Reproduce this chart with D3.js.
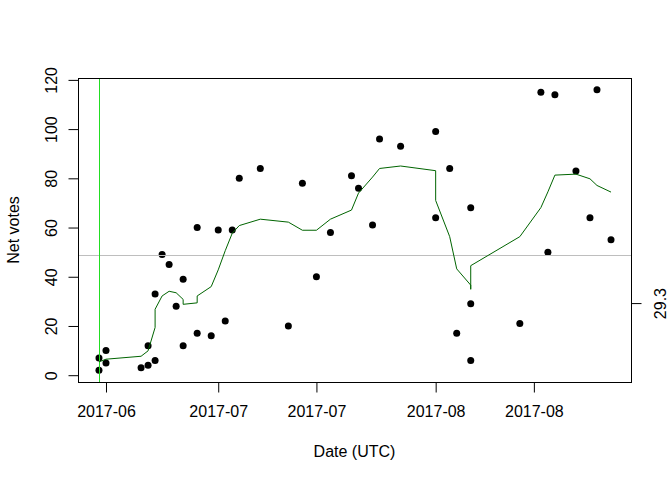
<!DOCTYPE html>
<html>
<head>
<meta charset="utf-8">
<script src="https://cdn.jsdelivr.net/npm/d3@7/dist/d3.min.js"></script>
<style>
  html, body { margin: 0; padding: 0; background: #ffffff; }
  svg { display: block; }
  text { font-family: "Liberation Sans", Arial, sans-serif; font-size: 16px; fill: #000; }
</style>
</head>
<body>
<script>
// ---------------- data ----------------
const pointDates = [
  "2017-06-14","2017-06-14","2017-06-15","2017-06-15","2017-06-20",
  "2017-06-21","2017-06-21","2017-06-22","2017-06-22","2017-06-23",
  "2017-06-24","2017-06-25","2017-06-26","2017-06-26","2017-06-28",
  "2017-06-28","2017-06-30","2017-07-01","2017-07-02","2017-07-03",
  "2017-07-04","2017-07-07","2017-07-11","2017-07-13","2017-07-15",
  "2017-07-17","2017-07-20","2017-07-21","2017-07-23","2017-07-24",
  "2017-07-27","2017-08-01","2017-08-01","2017-08-03","2017-08-04",
  "2017-08-06","2017-08-06","2017-08-06","2017-08-13","2017-08-16",
  "2017-08-17","2017-08-18","2017-08-21","2017-08-23","2017-08-24",
  "2017-08-26"
];
const netVotes = [
  7, 2, 10, 5, 3,
  4, 12, 6, 33, 49,
  45, 28, 39, 12, 60,
  17, 16, 59, 22, 59,
  80, 84, 20, 78, 40,
  58, 81, 76, 61, 96,
  93, 99, 64, 84, 17,
  68, 29, 6, 21, 115,
  50, 114, 83, 64, 116,
  55
];

// rolling average series (dark green line)
const avgDates = [
  "2017-06-14","2017-06-15","2017-06-20","2017-06-21","2017-06-22",
  "2017-06-22","2017-06-23","2017-06-24","2017-06-25","2017-06-26",
  "2017-06-26","2017-06-28","2017-06-28","2017-06-30","2017-07-01",
  "2017-07-02","2017-07-03","2017-07-04","2017-07-07","2017-07-11",
  "2017-07-13","2017-07-15","2017-07-17","2017-07-20","2017-07-21",
  "2017-07-23","2017-07-24","2017-07-27","2017-08-01","2017-08-01",
  "2017-08-03","2017-08-04","2017-08-06","2017-08-06","2017-08-06",
  "2017-08-13","2017-08-16","2017-08-17","2017-08-18","2017-08-21",
  "2017-08-23","2017-08-24","2017-08-26"
];
const avgValues = [
  5.4, 6.5, 7.7, 9.9, 19.4,
  26.8, 32.2, 34.1, 33.5, 30.8,
  28.8, 29.4, 32.2, 36.0, 42.8,
  50.6, 57.7, 60.8, 63.4, 62.2,
  58.9, 58.9, 63.4, 67.1, 74.0,
  80.5, 84.0, 85.0, 83.1, 71.0,
  56.3, 43.2, 36.6, 34.9, 44.5,
  56.3, 68.1, 74.5, 81.3, 81.7,
  79.8, 77.1, 74.4
];

const xTickDates = ["2017-06-15","2017-07-01","2017-07-15","2017-08-01","2017-08-15"];
const yTicks = [0, 20, 40, 60, 80, 100, 120];
const rightTickValues = [29.3];
const markerDate = "2017-06-14";

const xTitle = "Date (UTC)";
const yTitle = "Net votes";

// ---------------- layout ----------------
const W = 672, H = 480;
const pLeft = 78, pRight = 631, pTop = 78, pBottom = 382;

const parse = d3.utcParse("%Y-%m-%d");
const pts = pointDates.map((d, i) => ({ date: parse(d), v: netVotes[i] }));
const avg = avgDates.map((d, i) => ({ date: parse(d), v: avgValues[i] }));

// R-style 4% padding
const xExt = d3.extent(pts, d => d.date.getTime());
const xPad = (xExt[1] - xExt[0]) * 0.04;
const x = d3.scaleUtc()
  .domain([new Date(xExt[0] - xPad), new Date(xExt[1] + xPad)])
  .range([pLeft + 0.5, pRight + 0.5]);

const yExt = d3.extent(netVotes);
const yPad = (yExt[1] - yExt[0]) * 0.04;
const y = d3.scaleLinear()
  .domain([yExt[0] - yPad, yExt[1] + yPad])
  .range([pBottom - 0.5, pTop + 0.5]);

const svg = d3.select("body").append("svg")
  .attr("width", W).attr("height", H);

svg.append("rect").attr("width", W).attr("height", H).attr("fill", "#fff");

// points
svg.append("g").selectAll("circle").data(pts).join("circle")
  .attr("cx", d => x(d.date))
  .attr("cy", d => y(d.v))
  .attr("r", 3.5)
  .attr("fill", "#000");

// mean line (grey)
const meanV = d3.mean(netVotes);
svg.append("line")
  .attr("x1", pLeft).attr("x2", pRight)
  .attr("y1", Math.round(y(meanV)) + 0.5).attr("y2", Math.round(y(meanV)) + 0.5)
  .attr("stroke", "#bebebe").attr("stroke-width", 1);

// vertical marker (green)
const mx = Math.round(x(parse(markerDate))) + 0.5;
svg.append("line")
  .attr("x1", mx).attr("x2", mx)
  .attr("y1", pTop).attr("y2", pBottom)
  .attr("stroke", "#22dd22").attr("stroke-width", 1);

// rolling average line
svg.append("path")
  .datum(avg)
  .attr("fill", "none")
  .attr("stroke", "#006400")
  .attr("stroke-width", 1)
  .attr("d", d3.line().x(d => x(d.date)).y(d => y(d.v)));

// box
svg.append("rect")
  .attr("x", pLeft + 0.5).attr("y", pTop + 0.5)
  .attr("width", pRight - pLeft).attr("height", pBottom - pTop)
  .attr("fill", "none").attr("stroke", "#000").attr("stroke-width", 1);

// bottom axis
const fmt = d3.utcFormat("%Y-%m");
const xAxis = d3.axisBottom(x)
  .tickValues(xTickDates.map(parse))
  .tickFormat(fmt)
  .tickSizeInner(10).tickSizeOuter(0).tickPadding(13);
const gx = svg.append("g").attr("transform", `translate(0,${pBottom + 0.5})`).call(xAxis);
gx.select(".domain").remove();
gx.selectAll("text").attr("font-size", 16).attr("font-family", "Liberation Sans, Arial, sans-serif").attr("fill", "#000");

// left axis
const yAxis = d3.axisLeft(y)
  .tickValues(yTicks)
  .tickSizeInner(10).tickSizeOuter(0).tickPadding(0);
const gy = svg.append("g").attr("transform", `translate(${pLeft + 0.5},0)`).call(yAxis);
gy.select(".domain").remove();
gy.selectAll(".tick text")
  .attr("x", 0).attr("dy", null)
  .attr("text-anchor", "middle")
  .attr("transform", "translate(-22,0) rotate(-90)")
  .attr("font-size", 16).attr("font-family", "Liberation Sans, Arial, sans-serif").attr("fill", "#000");

// right axis (single tick)
const yAxisR = d3.axisRight(y)
  .tickValues(rightTickValues)
  .tickFormat(d3.format(".1f"))
  .tickSizeInner(10).tickSizeOuter(0).tickPadding(0);
const gr = svg.append("g").attr("transform", `translate(${pRight + 0.5},0)`).call(yAxisR);
gr.select(".domain").remove();
gr.selectAll(".tick text")
  .attr("x", 0).attr("dy", null)
  .attr("text-anchor", "middle")
  .attr("transform", "translate(34,0) rotate(-90)")
  .attr("font-size", 16).attr("font-family", "Liberation Sans, Arial, sans-serif").attr("fill", "#2352a0");

// titles
svg.append("text")
  .attr("x", (pLeft + pRight) / 2).attr("y", 457)
  .attr("text-anchor", "middle")
  .text(xTitle);

svg.append("text")
  .attr("transform", `translate(19,${(pTop + pBottom) / 2}) rotate(-90)`)
  .attr("text-anchor", "middle")
  .text(yTitle);
</script>
</body>
</html>
